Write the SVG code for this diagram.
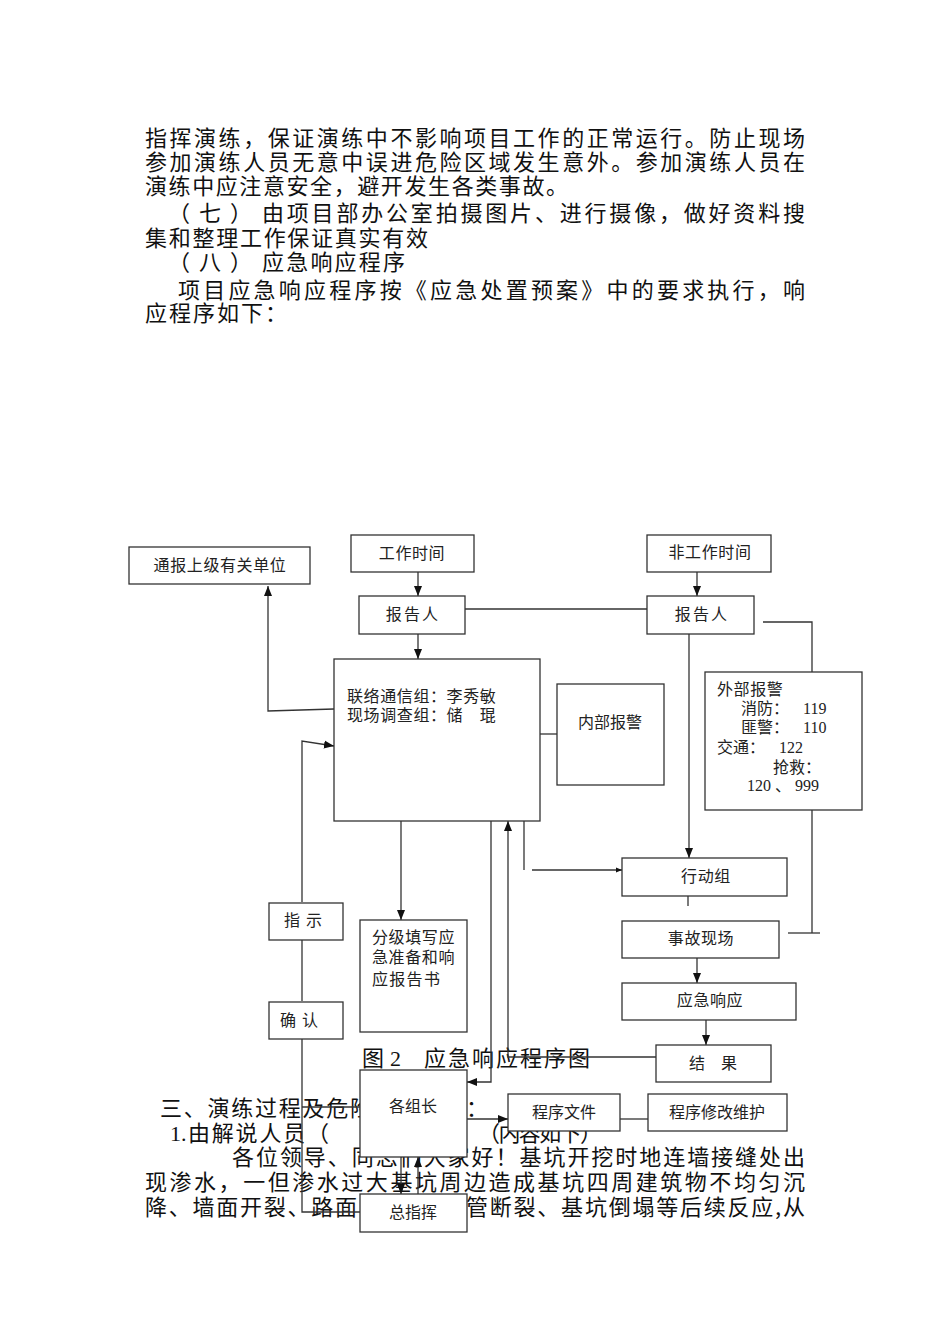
<svg xmlns="http://www.w3.org/2000/svg" width="950" height="1344" viewBox="0 0 950 1344">
<style>
.body{font-family:"Noto Sans CJK SC","Liberation Serif",sans-serif;font-size:22px;fill:#111}
.bx{fill:#fff;stroke:#333;stroke-width:1.3}
.lb{font-family:"Noto Sans CJK SC",sans-serif;font-size:16px;fill:#222}
.num{font-family:"Liberation Serif","Noto Sans CJK SC",serif;font-size:16px;fill:#222}
.ln{fill:none;stroke:#333;stroke-width:1.3}
</style>
<defs>
<marker id="ar" markerWidth="10" markerHeight="10" refX="10" refY="5" orient="auto" markerUnits="userSpaceOnUse">
<path d="M0,1 L10,5 L0,9 Z" fill="#111"/>
</marker>
<marker id="ars" markerWidth="6" markerHeight="6" refX="6" refY="3" orient="auto" markerUnits="userSpaceOnUse">
<path d="M0,0.5 L6,3 L0,5.5 Z" fill="#111"/>
</marker>
</defs>
<rect width="950" height="1344" fill="#fff"/>

<g id="text-top">
<text class="body" x="145" y="146" textLength="660" lengthAdjust="spacing">指挥演练，保证演练中不影响项目工作的正常运行。防止现场</text>
<text class="body" x="145" y="170" textLength="660" lengthAdjust="spacing">参加演练人员无意中误进危险区域发生意外。参加演练人员在</text>
<text class="body" x="145" y="194" textLength="423" lengthAdjust="spacing">演练中应注意安全，避开发生各类事故。</text>
<text class="body" y="221"><tspan x="168" textLength="84" lengthAdjust="spacing">（七）</tspan><tspan x="262" textLength="543" lengthAdjust="spacing">由项目部办公室拍摄图片、进行摄像，做好资料搜</tspan></text>
<text class="body" x="145" y="246" textLength="283" lengthAdjust="spacing">集和整理工作保证真实有效</text>
<text class="body" y="270"><tspan x="168" textLength="84" lengthAdjust="spacing">（八）</tspan><tspan x="262" textLength="143" lengthAdjust="spacing">应急响应程序</tspan></text>
<text class="body" x="178" y="298" textLength="627" lengthAdjust="spacing">项目应急响应程序按《应急处置预案》中的要求执行，响</text>
<text class="body" x="145" y="321" textLength="142" lengthAdjust="spacing">应程序如下：</text>
</g>

<g id="text-bottom">
<text class="body" x="362" y="1066">图</text>
<text class="body" x="390" y="1066" style="font-family:'Liberation Serif',serif">2</text>
<text class="body" x="424" y="1066" textLength="166" lengthAdjust="spacing">应急响应程序图</text>
<text class="body" x="160" y="1116" textLength="212" lengthAdjust="spacing">三、演练过程及危险</text>
<text class="body" x="466" y="1116">：</text>
<text class="body" x="170" y="1141"><tspan style="font-family:'Liberation Serif',serif">1.</tspan><tspan x="188" textLength="141" lengthAdjust="spacing">由解说人员（</tspan></text>
<text class="body" x="478" y="1141" textLength="124" lengthAdjust="spacing">（内容如下）</text>
<text class="body" x="232" y="1165" textLength="573" lengthAdjust="spacing">各位领导、同志们大家好！基坑开挖时地连墙接缝处出</text>
<text class="body" x="145" y="1190" textLength="660" lengthAdjust="spacing">现渗水，一但渗水过大基坑周边造成基坑四周建筑物不均匀沉</text>
<text class="body" x="145" y="1215" textLength="212" lengthAdjust="spacing">降、墙面开裂、路面</text>
<text class="body" x="466" y="1215" textLength="339" lengthAdjust="spacing">管断裂、基坑倒塌等后续反应,从</text>
</g>

<g id="connectors">
<line class="ln" x1="418" y1="572" x2="418" y2="596" marker-end="url(#ar)"/>
<line class="ln" x1="418" y1="634" x2="418" y2="659" marker-end="url(#ar)"/>
<line class="ln" x1="465" y1="609" x2="648" y2="609"/>
<line class="ln" x1="697" y1="572" x2="697" y2="596" marker-end="url(#ar)"/>
<line class="ln" x1="689" y1="634" x2="689" y2="858" marker-end="url(#ar)"/>
<polyline class="ln" points="763,622 812,622 812,672"/>
<line class="ln" x1="812" y1="810" x2="812" y2="933"/>
<line class="ln" x1="788" y1="933" x2="820" y2="933"/>
<line class="ln" x1="540" y1="734" x2="557" y2="734"/>
<polyline class="ln" points="334,709 268,711 268,586" marker-end="url(#ar)"/>
<polyline class="ln" points="302,902 302,741 334,746" marker-end="url(#ar)"/>
<line class="ln" x1="302" y1="940" x2="302" y2="1001"/>
<polyline class="ln" points="302,1039 302,1212 360,1212"/>
<line class="ln" x1="302" y1="1107" x2="360" y2="1107"/>
<line class="ln" x1="401" y1="821" x2="401" y2="920" marker-end="url(#ar)"/>
<polyline class="ln" points="491,821 491,1082 467,1082" marker-end="url(#ar)"/>
<polyline class="ln" points="656,1057 508,1057 508,821" marker-end="url(#ar)"/>
<line class="ln" x1="524" y1="821" x2="524" y2="870"/>
<line class="ln" x1="532" y1="870" x2="622" y2="870" marker-end="url(#ars)"/>
<line class="ln" x1="688" y1="896" x2="688" y2="906"/>
<line class="ln" x1="697" y1="958" x2="697" y2="983" marker-end="url(#ar)"/>
<line class="ln" x1="706" y1="1020" x2="706" y2="1045" marker-end="url(#ar)"/>
<line class="ln" x1="467" y1="1119" x2="508" y2="1119" marker-end="url(#ar)"/>
<line class="ln" x1="620" y1="1119" x2="648" y2="1119"/>
<line class="ln" x1="401" y1="1157" x2="401" y2="1194" marker-end="url(#ar)"/>
<line class="ln" x1="418" y1="1194" x2="418" y2="1157" marker-end="url(#ar)"/>
</g>

<g id="n-tongbao"><rect class="bx" x="129" y="547" width="181" height="37"/><text class="lb" x="220" y="571" text-anchor="middle" letter-spacing="0.6">通报上级有关单位</text></g>
<g id="n-gongzuo"><rect class="bx" x="351" y="535" width="123" height="37"/><text class="lb" x="412" y="559" text-anchor="middle" letter-spacing="0.6">工作时间</text></g>
<g id="n-baogao1"><rect class="bx" x="359" y="596" width="106" height="38"/><text class="lb" x="413" y="620" text-anchor="middle" letter-spacing="2.2">报告人</text></g>
<g id="n-feigongzuo"><rect class="bx" x="647" y="535" width="124" height="37"/><text class="lb" x="710" y="558" text-anchor="middle" letter-spacing="0.6">非工作时间</text></g>
<g id="n-baogao2"><rect class="bx" x="647" y="596" width="107" height="38"/><text class="lb" x="702" y="620" text-anchor="middle" letter-spacing="2.2">报告人</text></g>
<g id="n-main"><rect class="bx" x="334" y="659" width="206" height="162"/>
<text class="lb" x="347" y="702" letter-spacing="0.6">联络通信组：李秀敏</text>
<text class="lb" x="347" y="721" letter-spacing="0.6">现场调查组：储　琨</text></g>
<g id="n-neibu"><rect class="bx" x="557" y="684" width="107" height="101"/><text class="lb" x="610" y="728" text-anchor="middle">内部报警</text></g>
<g id="n-waibu"><rect class="bx" x="705" y="672" width="157" height="138"/>
<text class="lb" x="717" y="695" letter-spacing="0.6">外部报警</text>
<text class="lb" x="741" y="714">消防：</text><text class="num" x="803" y="714">119</text>
<text class="lb" x="741" y="733">匪警：</text><text class="num" x="803" y="733">110</text>
<text class="lb" x="717" y="753">交通：</text><text class="num" x="779" y="753">122</text>
<text class="lb" x="773" y="773">抢救：</text>
<text class="num" x="747" y="791">120 、 999</text></g>
<g id="n-xingdong"><rect class="bx" x="622" y="858" width="165" height="38"/><text class="lb" x="706" y="882" text-anchor="middle" letter-spacing="0.6">行动组</text></g>
<g id="n-shigu"><rect class="bx" x="622" y="921" width="157" height="37"/><text class="lb" x="701" y="944" text-anchor="middle" letter-spacing="0.6">事故现场</text></g>
<g id="n-yingji"><rect class="bx" x="622" y="983" width="174" height="37"/><text class="lb" x="710" y="1006" text-anchor="middle" letter-spacing="0.6">应急响应</text></g>
<g id="n-jieguo"><rect class="bx" x="656" y="1045" width="115" height="37"/><text class="lb" x="713" y="1069" text-anchor="middle">结　果</text></g>
<g id="n-fenji"><rect class="bx" x="360" y="920" width="107" height="112"/>
<text class="lb" x="372" y="943" letter-spacing="0.6">分级填写应</text>
<text class="lb" x="372" y="963" letter-spacing="0.6">急准备和响</text>
<text class="lb" x="372" y="985" letter-spacing="1.3">应报告书</text></g>
<g id="n-zhishi"><rect class="bx" x="269" y="903" width="74" height="37"/><text class="lb" x="306" y="926" text-anchor="middle" letter-spacing="6">指示</text></g>
<g id="n-queren"><rect class="bx" x="269" y="1002" width="74" height="37"/><text class="lb" x="302" y="1026" text-anchor="middle" letter-spacing="6">确认</text></g>
<g id="n-gezuzhang"><rect class="bx" x="360" y="1070" width="107" height="87"/><text class="lb" x="413" y="1112" text-anchor="middle">各组长</text></g>
<g id="n-chengxu"><rect class="bx" x="508" y="1094" width="112" height="37"/><text class="lb" x="564" y="1118" text-anchor="middle">程序文件</text></g>
<g id="n-xiugai"><rect class="bx" x="648" y="1094" width="139" height="37"/><text class="lb" x="717" y="1118" text-anchor="middle">程序修改维护</text></g>
<g id="n-zongzhihui"><rect class="bx" x="360" y="1194" width="107" height="38"/><text class="lb" x="413" y="1218" text-anchor="middle">总指挥</text></g>
</svg>
